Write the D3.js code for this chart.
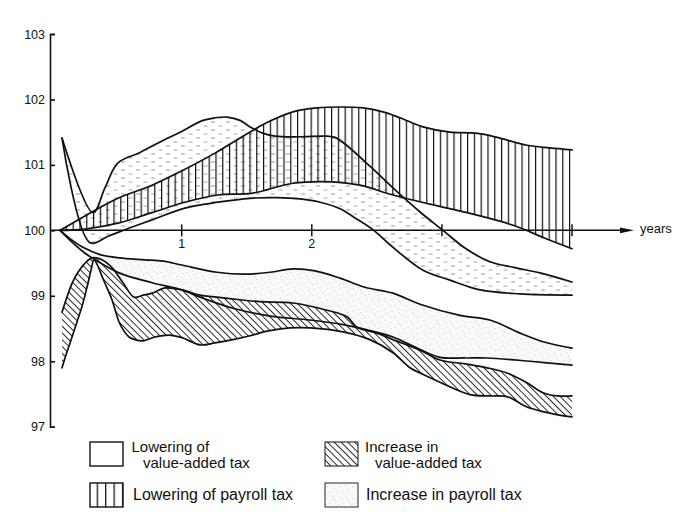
<!DOCTYPE html>
<html><head><meta charset="utf-8">
<script src="https://cdn.jsdelivr.net/npm/d3@7"></script>
<style>
html,body{margin:0;padding:0;background:#fff;}
svg{display:block;}
text{font-family:"Liberation Sans",Arial,Helvetica,sans-serif;fill:#111;}
</style></head><body>
<svg id="chart" width="682" height="520"></svg>
<script>
// ---------- data (time in years, index level 100 = baseline) ----------
const yTicks = [97, 98, 99, 100, 101, 102, 103];
const xTicks = [1, 2, 3, 4];
const xTickLabels = ["1", "2", "", ""];
const xAxisLabel = "years";

// Lowering of payroll tax (vertical hatch band)
const payrollCutUpper = [[0.065,100.00],[0.257,100.22],[0.510,100.49],[0.772,100.69],[0.972,100.88],[1.256,101.18],[1.548,101.53],[1.679,101.67],[1.855,101.81],[2.040,101.87],[2.217,101.885],[2.394,101.87],[2.547,101.81],[2.678,101.72],[2.855,101.58],[3.062,101.50],[3.216,101.49],[3.316,101.47],[3.446,101.41],[3.654,101.30],[3.830,101.26],[4.000,101.23]];
const payrollCutLower = [[0.065,100.00],[0.257,100.02],[0.510,100.11],[0.772,100.27],[1.025,100.43],[1.279,100.54],[1.548,100.57],[1.855,100.72],[2.163,100.74],[2.370,100.69],[2.624,100.54],[2.909,100.40],[3.216,100.26],[3.446,100.14],[3.600,100.04],[3.792,99.88],[4.000,99.72]];

// Lowering of value-added tax (dashed band)
const vatCutUpper = [[0.080,101.41],[0.318,100.27],[0.410,100.65],[0.510,101.03],[0.680,101.19],[0.833,101.35],[0.987,101.50],[1.164,101.68],[1.256,101.72],[1.348,101.73],[1.448,101.68],[1.525,101.58],[1.617,101.49],[1.717,101.44],[1.909,101.43],[2.101,101.44],[2.178,101.42],[2.255,101.32],[2.447,100.98],[2.655,100.59],[2.832,100.28],[3.008,100.00],[3.177,99.73],[3.369,99.52],[3.562,99.43],[3.754,99.35],[4.000,99.21]];
const vatCutLower = [[0.080,101.41],[0.295,99.81],[0.434,99.91],[0.564,100.01],[0.772,100.16],[1.025,100.34],[1.279,100.43],[1.525,100.49],[1.733,100.50],[1.909,100.48],[2.063,100.43],[2.217,100.33],[2.332,100.19],[2.470,100.01],[2.601,99.78],[2.855,99.39],[3.062,99.24],[3.293,99.09],[3.600,99.03],[4.000,99.01]];

// Increase in payroll tax (stippled band)
const payrollRiseUpper = [[0.065,100.00],[0.157,99.85],[0.241,99.74],[0.372,99.63],[0.518,99.58],[0.718,99.55],[0.856,99.53],[1.002,99.47],[1.271,99.36],[1.486,99.33],[1.679,99.36],[1.855,99.41],[2.025,99.38],[2.217,99.27],[2.409,99.13],[2.624,99.04],[2.832,98.87],[3.139,98.70],[3.369,98.63],[3.600,98.43],[3.792,98.29],[4.000,98.20]];
const payrollRiseLower = [[0.065,100.00],[0.157,99.82],[0.257,99.65],[0.334,99.55],[0.518,99.35],[0.772,99.20],[1.002,99.09],[1.141,98.98],[1.394,98.81],[1.679,98.69],[1.986,98.63],[2.240,98.56],[2.424,98.48],[2.624,98.37],[2.832,98.18],[2.985,98.06],[3.177,98.05],[3.347,98.05],[3.677,98.00],[4.000,97.94]];

// Increase in value-added tax (diagonal hatch band)
const vatRiseUpper = [[0.080,98.75],[0.118,98.98],[0.157,99.19],[0.203,99.36],[0.257,99.50],[0.311,99.58],[0.387,99.55],[0.464,99.43],[0.549,99.20],[0.633,98.98],[0.703,99.01],[0.772,99.04],[0.872,99.12],[1.002,99.09],[1.141,99.01],[1.271,98.98],[1.448,98.94],[1.602,98.91],[1.855,98.89],[2.117,98.78],[2.271,98.68],[2.347,98.52],[2.501,98.43],[2.624,98.33],[2.832,98.17],[2.985,98.02],[3.177,97.96],[3.347,97.90],[3.500,97.82],[3.654,97.67],[3.777,97.52],[3.892,97.47],[4.000,97.47]];
const vatRiseLower = [[0.080,97.90],[0.118,98.14],[0.157,98.37],[0.195,98.60],[0.234,98.84],[0.272,99.13],[0.303,99.39],[0.326,99.55],[0.357,99.45],[0.387,99.30],[0.426,99.12],[0.464,98.94],[0.495,98.74],[0.518,98.60],[0.557,98.46],[0.595,98.37],[0.641,98.33],[0.695,98.31],[0.795,98.37],[0.902,98.40],[1.002,98.36],[1.141,98.25],[1.256,98.28],[1.394,98.33],[1.525,98.39],[1.656,98.46],[1.832,98.51],[1.986,98.51],[2.240,98.45],[2.447,98.33],[2.624,98.13],[2.755,97.90],[2.832,97.82],[2.985,97.68],[3.216,97.49],[3.369,97.47],[3.500,97.46],[3.654,97.30],[3.777,97.23],[3.892,97.18],[4.000,97.15]];

const legendLabels = [
  ["Lowering of", "value-added tax"],
  ["Increase in", "value-added tax"],
  ["Lowering of payroll tax"],
  ["Increase in payroll tax"]
];

// ---------- drawing ----------
const svg = d3.select("#chart");
const x = d3.scaleLinear().domain([0, 4]).range([51.6, 572]);
const y = d3.scaleLinear().domain([97, 103]).range([426.7, 34]);

const defs = svg.append("defs");
const pv = defs.append("pattern").attr("id", "vhatch").attr("patternUnits", "userSpaceOnUse")
  .attr("width", 6.8).attr("height", 10).attr("x", 59);
pv.append("line").attr("x1", 0.6).attr("x2", 0.6).attr("y1", -1).attr("y2", 11)
  .attr("stroke", "#111").attr("stroke-width", 1.2);

const pvl = defs.append("pattern").attr("id", "vhatchLegend").attr("patternUnits", "userSpaceOnUse")
  .attr("width", 8.4).attr("height", 10).attr("x", 96.7);
pvl.append("line").attr("x1", 0.6).attr("x2", 0.6).attr("y1", -1).attr("y2", 11)
  .attr("stroke", "#111").attr("stroke-width", 1.3);

const pd = defs.append("pattern").attr("id", "dhatch").attr("patternUnits", "userSpaceOnUse")
  .attr("width", 4.8).attr("height", 10).attr("patternTransform", "rotate(-45)");
pd.append("line").attr("x1", 0.5).attr("x2", 0.5).attr("y1", -1).attr("y2", 11)
  .attr("stroke", "#1a1a1a").attr("stroke-width", 0.95);

const pdash = defs.append("pattern").attr("id", "dashes").attr("patternUnits", "userSpaceOnUse")
  .attr("width", 15).attr("height", 8);
pdash.append("line").attr("x1", 1).attr("x2", 5).attr("y1", 2).attr("y2", 2)
  .attr("stroke", "#8c8c8c").attr("stroke-width", 0.9);
pdash.append("line").attr("x1", 8.5).attr("x2", 12.5).attr("y1", 6).attr("y2", 6)
  .attr("stroke", "#9a9a9a").attr("stroke-width", 0.9);

const pst = defs.append("pattern").attr("id", "stipple").attr("patternUnits", "userSpaceOnUse")
  .attr("width", 13).attr("height", 11);
pst.append("rect").attr("width", 13).attr("height", 11).attr("fill", "#f9f9f9");
[[2,3],[8,1.5],[11,7],[5,8.5],[9.5,4.5],[1,9.5]].forEach(p =>
  pst.append("circle").attr("cx", p[0]).attr("cy", p[1]).attr("r", 0.42).attr("fill", "#999"));

const line = d3.line().x(d => x(d[0])).y(d => y(d[1])).curve(d3.curveCatmullRom.alpha(0.5));
function band(upper, lower) {
  return line(upper) + line(lower.slice().reverse()).replace(/^M/, "L") + "Z";
}

const g = svg.append("g");
g.append("path").attr("d", band(vatCutUpper, vatCutLower)).attr("fill", "url(#dashes)");
g.append("path").attr("d", band(payrollCutUpper, payrollCutLower)).attr("fill", "url(#vhatch)");
g.append("path").attr("d", band(payrollRiseUpper, payrollRiseLower)).attr("fill", "url(#stipple)");
const vatRiseBand = band(vatRiseUpper, vatRiseLower);
g.append("path").attr("d", vatRiseBand).attr("fill", "#fff");
g.append("path").attr("d", vatRiseBand).attr("fill", "url(#dhatch)");

[payrollCutUpper, payrollCutLower, vatCutUpper, vatCutLower,
 payrollRiseUpper, payrollRiseLower, vatRiseUpper, vatRiseLower].forEach(s => {
  g.append("path").attr("d", line(s)).attr("fill", "none")
    .attr("stroke", "#111").attr("stroke-width", 1.7)
    .attr("stroke-linejoin", "round").attr("stroke-linecap", "round");
});

// y axis
const yAxis = d3.axisLeft(y).tickValues(yTicks).tickSize(-5).tickPadding(5).tickFormat(d3.format("d"));
const ya = svg.append("g").attr("transform", "translate(50,0)").call(yAxis);
ya.select(".domain").attr("stroke", "#111").attr("stroke-width", 1.6);
ya.selectAll(".tick line").attr("stroke", "#111").attr("stroke-width", 1.6);
ya.selectAll(".tick text").attr("font-size", 12.5).attr("font-family", "Liberation Sans, Arial, sans-serif")
  .attr("fill", "#111");

// x axis (at 100)
const y0 = y(100);
svg.append("line").attr("x1", 50).attr("x2", 622).attr("y1", y0).attr("y2", y0)
  .attr("stroke", "#111").attr("stroke-width", 1.5);
svg.append("path").attr("d", `M620,${y0 - 2.8}L634,${y0}L620,${y0 + 2.8}Z`).attr("fill", "#111");
svg.selectAll(".xtick").data(xTicks).enter().append("line")
  .attr("x1", d => x(d)).attr("x2", d => x(d)).attr("y1", y0 - 6).attr("y2", y0 + 6)
  .attr("stroke", "#111").attr("stroke-width", 1.5);
svg.selectAll(".xlab").data(xTicks).enter().append("text")
  .attr("x", d => x(d)).attr("y", y0 + 18).attr("text-anchor", "middle").attr("font-size", 12.5)
  .text((d, i) => xTickLabels[i]);
svg.append("text").attr("x", 640).attr("y", y0 + 3).attr("font-size", 13).text(xAxisLabel);

// legend
const legendPos = [
  {bx: 90, by: 442, tx: [131.5, 143], fill: "#fff", stroke: 1.4},
  {bx: 325, by: 442, tx: [365, 375], fill: "url(#dhatch)", stroke: 1.0},
  {bx: 90, by: 483, tx: [133], fill: "url(#vhatchLegend)", stroke: 1.4},
  {bx: 325, by: 483, tx: [366], fill: "url(#stipple)", stroke: 0.9}
];
legendLabels.forEach((lab, i) => {
  const p = legendPos[i];
  svg.append("rect").attr("x", p.bx).attr("y", p.by).attr("width", 33).attr("height", 24)
    .attr("fill", p.fill).attr("stroke", "#111").attr("stroke-width", p.stroke);
  if (lab.length === 2) {
    svg.append("text").attr("x", p.tx[0]).attr("y", p.by + 10).attr("font-size", 15).text(lab[0]);
    svg.append("text").attr("x", p.tx[1]).attr("y", p.by + 26).attr("font-size", 15).text(lab[1]);
  } else {
    svg.append("text").attr("x", p.tx[0]).attr("y", p.by + 16.5).attr("font-size", 16).text(lab[0]);
  }
});
</script>
</body></html>
